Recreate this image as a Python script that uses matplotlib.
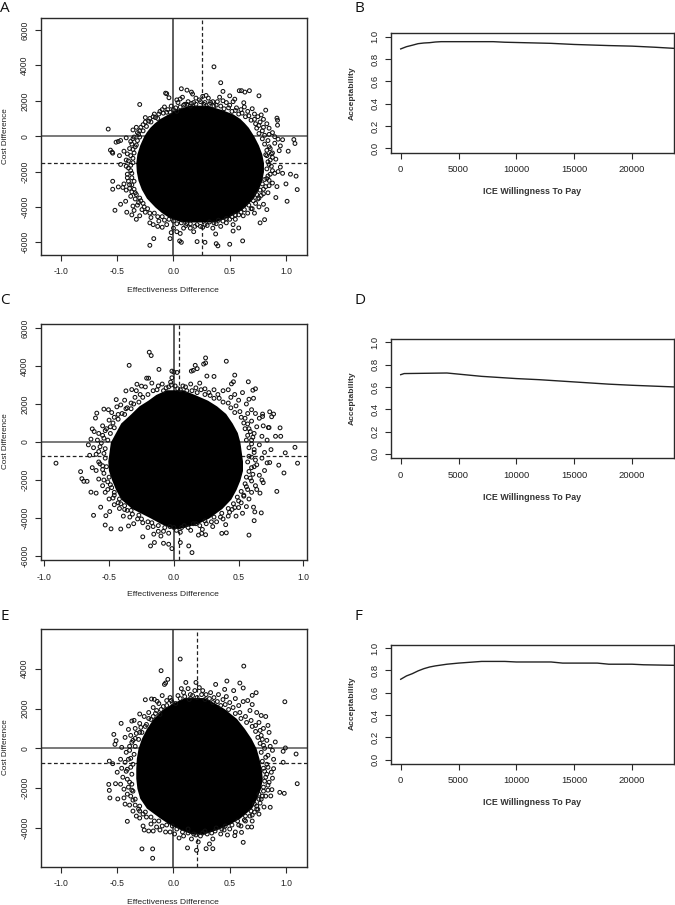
#!/usr/bin/env python3
# -*- coding: utf-8 -*-
"""
Cost effectiveness planes and acceptability curves, three comparisons
"""

import matplotlib
matplotlib.use("Agg")
import matplotlib.pyplot as plt

plt.rcParams['font.family'] = ['Liberation Sans', 'DejaVu Sans']

W, H = 675, 905

# points (effectiveness, cost)
a_points = [(.36,3920),(.42,3020),(.44,2530),(.07,2680),(.12,2600),(.16,2490),(.17,2380),(-.07,2430),(-.06,2400),
    (-.04,2170),(-.30,1790),(-.58,400),(.585,2570),(.605,2570),(.635,2490),(.675,2570),(.76,2280),(.5,2280),
    (.545,2090),(.625,1890),(.82,1470),(.92,1020),(.925,900),(.925,620),(1.07,-190),(1.08,-415),(1.02,-850),
    (1.04,-2150),(1.09,-2260),(1.10,-3020),(1.0,-2700),(1.01,-3680),(.91,-3470),(-.54,-2550),(-.54,-3000),
    (-.49,-2870),(-.52,-4190),(-.415,-4300),(-.47,-3850),(-.425,-3680),(-.51,-340),(-.49,-300),(-.47,-245),
    (-.42,-95),(-.56,-790),(-.545,-905),(-.54,-960),(-.21,-6170),(-.175,-5790),(-.03,-5790),(.055,-5920),
    (.07,-6000),(.21,-5960),(.28,-6000),(.38,-6075),(.395,-6200),(.5,-6110),(.615,-5920),(.375,-5530),
    (.77,-4900),(.81,-4720),(.53,-5360),(.58,-5190),
    (-.08,1650),(-.05,1500),(-.02,1700),(.02,1600),(.04,1900),(.06,2100),(.08,2200),(.03,2050),(.1,1800),
    (.13,1950),(.15,1700),(.18,1900),(.2,2150),(.23,2050),(.26,2250),(.29,2300),(.31,2150),(.27,1800),(.33,1900),
    (.36,1700),(.39,1950),(.41,2200),(.44,2000),(.47,1900),(.5,1750),(.53,1950),(.56,1600),(.6,1500),(.63,1650),
    (.66,1400),(.7,1550),(.72,1250),(.75,1100),(.78,1200),(.8,950),(.77,800),(.83,700),(.85,450),(.8,500),
    (.88,200),(.9,-30),(.85,100),(.93,-170),(.97,-200),(.95,-550),(.9,-400),(.86,-700),(.94,-820),(.88,-950),
    (.83,-1100),(.86,-1350),(.91,-1300),(.85,-1600),(.95,-1750),(.93,-2000),(.9,-2100),(.97,-2100),(.86,-2150),
    (.83,-2400),(.88,-2650),(.92,-2850),(.85,-2800),(.8,-3000),(.84,-3200),(.78,-3350),(.75,-3550),(.8,-3850),
    (.83,-4150),(.76,-4000),(.7,-4100),(.72,-4350),(.66,-4350),(.62,-4500),(.58,-4450),(.55,-4700),(.5,-4700),
    (.53,-5000),(.47,-4900),(.42,-5100),(.38,-4950),(.35,-5200),(.3,-5050),(.26,-5150),(.21,-5000),(.18,-5400),
    (.15,-5200),(.12,-4950),(.09,-5200),(.06,-5500),(.03,-5400),(0,-5200),(-.02,-5450),(-.06,-5000),(-.1,-5150),
    (-.14,-5100),(-.18,-5000),(-.21,-4900),(-.13,-4800),(-.2,-4600),(-.25,-4300),(-.28,-4150),(-.3,-4500),
    (-.33,-4700),(-.37,-4450),(-.35,-4200),(-.32,-3900),(-.36,-3950),(-.29,-3650),(-.38,-3400),(-.34,-3200),
    (-.42,-3050),(-.45,-2900),(-.39,-2750),(-.35,-2550),(-.44,-2700),(-.41,-2350),(-.37,-2100),(-.4,-1800),
    (-.36,-1500),(-.47,-1600),(-.42,-1350),(-.38,-1100),(-.48,-1100),(-.44,-850),(-.36,-750),(-.33,-500),
    (-.38,-300),(-.35,-50),(-.31,100),(-.36,350),(-.33,500),(-.3,300),(-.27,650),(-.25,1050),(-.22,850),
    (-.18,1100),(-.14,1000),(-.12,1400),(-.17,1250)]

a_band = [(-.03,1350),(0,1500),(.03,1400),(.06,1650),(.09,1750),(.12,1800),(.16,1850),(.2,1800),(.24,1950),(.28,1900),
    (.32,1800),(.35,1950),(.38,1750),(.42,1700),(.45,1550),(.49,1600),(.52,1400),(.55,1450),(.58,1250),(.61,1300),
    (.64,1100),(.67,1150),(.69,900),(.72,950),(.73,700),(.76,600),(.74,450),(.79,300),(.76,150),(.81,50),(.79,-150),
    (.84,-250),(.81,-450),(.85,-600),(.83,-800),(.87,-1000),(.82,-1050),(.88,-1200),(.84,-1450),(.87,-1700),(.83,-1850),
    (.88,-1950),(.84,-2250),(.81,-2450),(.85,-2500),(.79,-2700),(.82,-2850),(.77,-3050),(.8,-3250),(.74,-3300),(.76,-3500),
    (.71,-3650),(.73,-3800),(.67,-3900),(.69,-4100),(.63,-4150),(.6,-4300),(.55,-4450),(.52,-4550),(.47,-4650),(.44,-4800),
    (.4,-4750),(.36,-4900),(.32,-4850),(.28,-5000),(.24,-5100),(.19,-5100),(.15,-4950),(.11,-5050),(.07,-4900),(.03,-4950),
    (0,-4800),(-.04,-4700),(-.08,-4750),(-.1,-4550),(-.14,-4550),(-.17,-4350),(-.21,-4350),(-.23,-4100),(-.26,-4000),
    (-.27,-3800),(-.31,-3750),(-.3,-3500),(-.34,-3550),(-.33,-3300),(-.37,-3150),(-.35,-3000),(-.39,-2950),(-.37,-2750),
    (-.4,-2550),(-.37,-2350),(-.41,-2150),(-.38,-1950),(-.42,-1700),(-.38,-1650),(-.4,-1400),(-.36,-1250),(-.41,-1000),
    (-.35,-950),(-.39,-700),(-.34,-600),(-.37,-450),(-.32,-250),(-.36,-150),(-.3,-50),(-.32,200),(-.27,300),(-.29,500),
    (-.24,550),(-.25,800),(-.2,800),(-.21,1000),(-.16,1050),(-.13,1250),(-.09,1300),(-.1,1500),(-.06,1350)]

# points
c_points = [(-.19,4725),(-.175,4550),(-.345,4035),(-.115,3820),(-.015,3730),(0,3680),(.025,3660),(.135,3730),
    (.15,3770),(.165,4035),(.18,3860),(.23,4100),(.245,4160),(.245,4425),(.405,4250),(.47,3520),(.31,3450),
    (.255,3470),(.46,3170),(.445,3060),(.575,3170),(.63,2800),(.61,2725),(-.21,3360),(-.195,3360),(-.015,3380),
    (-.025,3150),(-.285,3040),(-.25,2940),(-.37,2690),(-.325,2760),(-.91,-1115),(-.72,-1560),(-.71,-1930),
    (-.695,-2070),(-.67,-2070),(-.64,-2640),(-.6,-2690),(-.62,-3860),(-.565,-3430),(-.53,-4370),(-.485,-4570),
    (-.525,-3880),(-.495,-3660),(-.41,-4580),(-.35,-4420),(-.24,-4990),(-.18,-5470),(-.15,-5290),(-.155,-4850),
    (-.015,-5610),(.115,-5470),(.14,-5820),(.05,-5290),(-.08,-5330),(-.04,-5380),(.19,-4900),(.215,-4810),
    (.245,-4880),(.37,-4810),(.405,-4780),(.58,-4900),(.62,-4140),(.625,-3680),(.615,-3430),(.675,-3730),
    (.795,-2600),(.69,-2140),(.665,-2690),(.74,-1080),(.85,-1630),(.81,-1220),(.955,-1115),(.86,-570),(.935,-280),
    (.825,300),(.785,300),(.82,745),(.73,760),(.735,760),(.74,1590),(.77,1470),(.755,1330),(.685,1470),(.685,1345),
    (.615,2300),(-.595,1520),(-.605,1260),(-.63,690),(-.615,550),(-.54,1730),(-.505,1700),(-.445,2230),
    (-.22,2900),(-.17,3100),(-.13,2750),(-.09,3050),(-.06,2850),(-.02,3000),(.03,2800),(.07,2950),(.1,2700),
    (.13,3050),(.17,2850),(.2,3100),(.24,2800),(.27,2600),(.31,2750),(.34,2500),(.38,2700),(.42,2750),(.44,2350),
    (.47,2500),(.5,2200),(.53,2600),(.56,2000),(.58,2250),(.6,1700),(.63,1500),(.57,1500),(.66,1250),(.6,1100),
    (.64,800),(.69,850),(.58,700),(.62,450),(.68,300),(.72,100),(.6,100),(.66,-150),(.75,-400),(.7,-550),(.62,-400),
    (.68,-850),(.6,-800),(.72,-1100),(.64,-1200),(.7,-1500),(.6,-1350),(.66,-1750),(.59,-1900),(.68,-2000),
    (.63,-2300),(.56,-2350),(.6,-2650),(.64,-2500),(.54,-2800),(.58,-3000),(.52,-3200),(.56,-3400),(.5,-3450),
    (.53,-3750),(.45,-3550),(.48,-3900),(.42,-3900),(.38,-4050),(.4,-4350),(.33,-4200),(.3,-4450),(.25,-4300),
    (.22,-4600),(.17,-4300),(.13,-4650),(.08,-4400),(.05,-4750),(0,-4500),(-.04,-4800),(-.07,-4500),(-.1,-4950),
    (-.12,-4700),(-.17,-4250),(-.2,-4500),(-.24,-4250),(-.28,-4050),(-.31,-4300),(-.34,-3950),(-.39,-3900),
    (-.36,-3600),(-.42,-3500),(-.46,-3300),(-.41,-3250),(-.5,-3000),(-.46,-2800),(-.53,-2650),(-.48,-2400),
    (-.55,-2300),(-.51,-2100),(-.58,-1950),(-.54,-1650),(-.6,-1500),(-.55,-1250),(-.63,-1350),(-.58,-1050),
    (-.65,-700),(-.6,-650),(-.54,-600),(-.66,-150),(-.62,-300),(-.57,-250),(-.64,150),(-.59,100),(-.54,200),
    (-.58,450),(-.53,600),(-.55,850),(-.49,800),(-.5,1150),(-.46,1300),(-.48,1550),(-.44,1850),(-.4,1500),
    (-.41,1950),(-.36,1800),(-.33,2050),(-.38,2200),(-.3,2350),(-.26,2500),(-.29,2700)]

c_band = [(-.16,2700),(-.12,2950),(-.08,2700),(-.04,2900),(.01,2950),(.05,2750),(.09,2900),(.14,2700),(.18,2600),(.21,2750),
    (.24,2500),(.28,2450),(.31,2300),(.35,2300),(.38,2100),(.42,2050),(.44,1800),(.48,1900),(.47,1550),(.51,1600),(.52,1300),
    (.55,1250),(.54,1000),(.57,950),(.55,700),(.59,550),(.57,350),(.61,250),(.56,100),(.6,-100),(.58,-300),(.62,-550),(.58,-750),
    (.63,-950),(.57,-1050),(.62,-1300),(.58,-1550),(.61,-1700),(.56,-1850),(.6,-2050),(.55,-2200),(.57,-2500),(.52,-2600),
    (.54,-2850),(.49,-2900),(.5,-3100),(.46,-3250),(.47,-3450),(.42,-3500),(.43,-3700),(.37,-3750),(.36,-3950),(.31,-3950),
    (.29,-4200),(.24,-4150),(.2,-4400),(.15,-4300),(.11,-4500),(.06,-4500),(.02,-4650),(-.03,-4450),(-.08,-4700),(-.12,-4400),
    (-.16,-4450),(-.2,-4200),(-.25,-4050),(-.27,-3850),(-.32,-3800),(-.33,-3600),(-.38,-3550),(-.38,-3350),(-.43,-3200),
    (-.42,-3000),(-.47,-2950),(-.46,-2650),(-.51,-2500),(-.49,-2250),(-.54,-2000),(-.5,-1850),(-.55,-1450),(-.52,-1300),
    (-.57,-1150),(-.53,-850),(-.58,-500),(-.53,-350),(-.56,-50),(-.51,100),(-.55,350),(-.49,450),(-.52,700),(-.46,750),
    (-.47,1000),(-.43,1200),(-.43,1450),(-.38,1450),(-.37,1750),(-.33,1750),(-.31,2000),(-.27,2100),(-.24,2350),(-.2,2500)]

# points
e_points = [(.06,4485),(.625,4130),(-.11,3900),(-.05,3465),(-.07,3280),(-.08,3210),(.475,3380),(.59,3280),(.62,3030),
    (.11,3310),(.2,3310),(.375,3210),(.455,2960),(.535,2900),(.735,2795),(.7,2660),(-.25,2440),(-.195,2480),
    (-.17,2460),(-.145,2360),(-.30,1725),(-.465,1255),(-.37,1370),(-.35,1405),(-.53,700),(-.51,385),(-.52,200),
    (.99,2340),(.905,320),(.975,-150),(.995,20),(1.09,-285),(.975,-700),(.89,-1020),(1.10,-1775),(.945,-2210),
    (.985,-2260),(.875,-2075),(.865,-2390),(.86,-2960),(.805,-2945),(.75,-3060),(-.575,-1810),(-.57,-2110),
    (-.565,-2490),(-.515,-1775),(-.495,-2540),(-.44,-2490),(-.41,-3665),(-.28,-5050),(-.185,-5050),(-.185,-5520),
    (.125,-5000),(.205,-5120),(.29,-5040),(.35,-5040),(.62,-4720),(.545,-4385),(.605,-4220),(.695,-3950),
    (-.57,-640),(-.54,-770),
    (-.1,2650),(-.06,2400),(-.03,2550),(-.01,2300),(.04,2650),(.07,3000),(.09,2800),(.13,3000),(.15,2700),(.19,2900),
    (.23,3050),(.26,2900),(.29,2700),(.33,2800),(.36,2550),(.4,2700),(.44,2450),(.47,2600),(.5,2300),(.55,2500),
    (.58,2150),(.62,2350),(.66,2400),(.68,1900),(.7,2200),(.74,1800),(.78,1650),(.82,1600),(.76,1300),(.84,1150),
    (.8,1000),(.85,800),(.78,650),(.83,400),(.86,100),(.8,150),(.88,-100),(.84,-350),(.89,-550),(.83,-800),
    (.87,-1200),(.81,-1150),(.88,-1500),(.85,-1700),(.82,-1450),(.84,-2100),(.8,-1950),(.82,-2400),(.78,-2550),
    (.76,-2300),(.74,-2900),(.72,-3200),(.76,-3300),(.68,-3400),(.7,-3650),(.64,-3650),(.66,-3950),(.6,-3900),
    (.55,-4200),(.5,-4050),(.48,-4350),(.45,-4100),(.42,-4300),(.37,-4150),(.35,-4550),(.32,-4800),(.3,-4300),
    (.26,-4250),(.22,-4700),(.2,-4350),(.16,-4550),(.13,-4250),(.09,-4400),(.05,-4500),(.01,-4300),(-.03,-4200),
    (-.07,-4200),(-.12,-4100),(-.15,-3950),(-.18,-4150),(-.22,-4150),(-.26,-4100),(-.27,-3900),(-.2,-3800),
    (-.3,-3500),(-.33,-3400),(-.27,-3300),(-.36,-3150),(-.31,-3050),(-.39,-2850),(-.43,-2800),(-.36,-2600),
    (-.41,-2300),(-.37,-2100),(-.44,-2050),(-.47,-1800),(-.39,-1700),(-.45,-1450),(-.5,-1200),(-.42,-1150),
    (-.46,-1000),(-.38,-950),(-.43,-700),(-.47,-550),(-.38,-500),(-.42,-200),(-.46,50),(-.39,100),(-.37,300),
    (-.43,550),(-.38,650),(-.34,500),(-.4,950),(-.34,1000),(-.3,800),(-.3,1250),(-.25,1100),(-.26,1600),(-.22,1800),
    (-.2,1450),(-.15,1900),(-.12,1700),(-.09,2100),(-.13,2250),(-.18,2050)]

e_band = [(-.06,2150),(-.02,2400),(.02,2250),(.06,2500),(.1,2600),(.14,2450),(.17,2650),(.21,2550),(.25,2700),(.28,2450),
    (.32,2500),(.35,2300),(.39,2350),(.42,2150),(.46,2200),(.49,1950),(.53,2050),(.55,1750),(.59,1800),(.6,1500),(.64,1600),
    (.65,1300),(.69,1400),(.7,1100),(.73,1150),(.73,850),(.77,900),(.75,550),(.79,450),(.77,250),(.81,0),(.78,-200),(.82,-450),
    (.79,-650),(.84,-950),(.8,-1000),(.83,-1300),(.81,-1650),(.84,-1850),(.8,-2150),(.79,-2400),(.76,-2550),(.77,-2750),(.72,-2800),
    (.74,-3050),(.69,-3150),(.7,-3350),(.64,-3400),(.63,-3600),(.57,-3650),(.58,-3850),(.52,-3850),(.46,-3900),(.43,-4050),(.38,-4000),
    (.34,-4250),(.28,-4150),(.24,-4400),(.18,-4300),(.13,-4050),(.08,-4200),(.03,-4050),(-.01,-3900),(-.06,-3850),(-.1,-3900),
    (-.13,-3650),(-.17,-3650),(-.2,-3450),(-.24,-3450),(-.25,-3200),(-.3,-3150),(-.3,-2900),(-.34,-2850),(-.34,-2550),(-.38,-2400),
    (-.36,-2150),(-.4,-1950),(-.37,-1800),(-.41,-1550),(-.37,-1300),(-.41,-1050),(-.36,-800),(-.4,-550),(-.35,-300),(-.39,-100),
    (-.34,100),(-.36,400),(-.31,450),(-.33,750),(-.28,800),(-.29,1050),(-.24,1200),(-.22,1500),(-.18,1600),(-.16,1750),(-.11,1950)]

# solid black part of each cloud, left and right edge at each cost level
a_cost = [1750, 1500, 1250, 1000, 750, 500, 250, 0, -500, -1000, -1500, -2000, -2500, -3000, -3500, -4000, -4300, -4600, -4850]
a_left = [.14, .02, -.05, -.12, -.17, -.21, -.24, -.265, -.30, -.325, -.335, -.33, -.315, -.285, -.24, -.165, -.11, -.04, .07]
a_right = [.3, .43, .53, .59, .63, .665, .69, .715, .755, .785, .80, .80, .785, .755, .71, .635, .57, .48, .36]

c_cost = [2750, 2500, 2200, 1900, 1500, 1000, 500, 0, -500, -1000, -1500, -2000, -2500, -3000, -3500, -4000, -4300, -4550]
c_left = [-.06, -.14, -.2, -.27, -.33, -.41, -.45, -.49, -.5, -.51, -.505, -.48, -.45, -.41, -.325, -.18, -.1, -.01]
c_right = [.07, .16, .26, .33, .4, .45, .49, .51, .52, .53, .53, .51, .48, .44, .37, .27, .18, .04]

e_cost = [2550, 2300, 2000, 1500, 1000, 500, 0, -500, -1000, -1500, -2000, -2500, -3000, -3500, -3800, -4050, -4300]
e_left = [.1, .0, -.09, -.18, -.24, -.285, -.315, -.33, -.335, -.335, -.325, -.30, -.24, -.12, -.04, .05, .16]
e_right = [.27, .36, .45, .56, .63, .69, .735, .76, .78, .79, .775, .74, .695, .59, .5, .4, .27]

# mean differences, the dashed lines
a_mean = (.25, -1520)
c_mean = (.04, -750)
e_mean = (.21, -750)

# acceptability curves
b_wtp = [0, 500, 1000, 1500, 2000, 2500, 3000, 3500, 5000, 8000, 9000, 11000, 13000, 15000, 18000, 20000, 22000, 23660]
b_acc = [.89, .91, .923, .937, .943, .946, .952, .955, .955, .955, .95, .945, .94, .93, .92, .915, .905, .895]
d_wtp = [0, 300, 4000, 5000, 7000, 10000, 12000, 15000, 18000, 20000, 23660]
d_acc = [.71, .72, .725, .715, .695, .675, .665, .645, .625, .615, .60]
f_wtp = [0, 500, 1000, 1500, 2000, 2500, 3000, 4000, 5000, 7000, 9000, 10000, 13000, 14000, 17000, 18000, 20000, 21000, 23660]
f_acc = [.72, .75, .77, .795, .815, .83, .84, .855, .865, .88, .88, .875, .875, .865, .865, .855, .855, .85, .845]

wtp_ticks = [0, 5000, 10000, 15000, 20000]
acc_ticks = [0.0, 0.2, 0.4, 0.6, 0.8, 1.0]
DARK = '#2a2a2a'

fig = plt.figure(figsize=(W / 100, H / 100), dpi=100)


def axes_px(left, top, right, bottom):
    ax = fig.add_axes([left / W, 1 - bottom / H, (right - left) / W, (bottom - top) / H])
    for s in ax.spines.values():
        s.set_color(DARK)
        s.set_linewidth(1.0)
    return ax


def finish(ax, xticks, xlabels, yticks, ylabels, size):
    ax.set_xticks(xticks, xlabels)
    ax.set_yticks(yticks, ylabels)
    ax.tick_params(axis='x', length=4.3, width=0.8, pad=4.5, labelsize=size, color=DARK, labelcolor='#222222')
    ax.tick_params(axis='y', length=4.3, width=0.8, pad=4, labelsize=size, color=DARK, labelcolor='#222222')
    for t in ax.get_yticklabels():
        t.set_rotation(90)
        t.set_va('center')


def px_text(x, y, s, **kw):
    fig.text(x / W, 1 - y / H, s, ha='center', va='center', **kw)


def plane(box, xlim, ylim, xticks, yticks, points, cost, left, right, mean, letter, letter_y, label_y, ylab_y):
    ax = axes_px(*box)
    ax.axhline(0, color='#555555', lw=1.1, zorder=1)
    ax.axvline(0, color='#333333', lw=1.1, zorder=1)
    ax.axhline(mean[1], color='#222222', lw=0.9, dashes=(3, 2), zorder=1)
    ax.axvline(mean[0], color='#222222', lw=0.9, dashes=(3, 2), zorder=1)
    ax.fill_betweenx(cost, left, right, color='black', lw=0, zorder=2)
    xs = [p[0] for p in points]
    ys = [p[1] for p in points]
    ax.scatter(xs, ys, s=7.5, facecolors='none', edgecolors='#111111', linewidths=0.75, zorder=3)
    ax.set_xlim(*xlim)
    ax.set_ylim(*ylim)
    finish(ax, xticks, ['%.1f' % v for v in xticks], yticks, [str(v) for v in yticks], 6.2)
    px_text(173, label_y, 'Effectiveness Difference', fontsize=6.1, color='#222222')
    px_text(6, ylab_y, 'Cost Difference', fontsize=5.9, rotation=90, color='#222222')
    fig.text(0 / W, 1 - letter_y / H, letter, fontsize=11, family='Open Sans', va='center', ha='left', color='#111111')


def curve(box, wtp, acc, letter, letter_y, label_y, ylab_y):
    ax = axes_px(*box)
    ax.plot(wtp, acc, color='#222222', lw=1.0)
    ax.set_xlim(-865, 23660)
    ax.set_ylim(-0.04, 1.03)
    finish(ax, wtp_ticks, [str(v) for v in wtp_ticks], acc_ticks, ['%.1f' % v for v in acc_ticks], 6.8)
    px_text(532, label_y, 'ICE Willingness To Pay', fontsize=6.4, fontweight='bold', color='#333333')
    px_text(352.5, ylab_y, 'Acceptability', fontsize=6.1, fontweight='bold', rotation=90, color='#333333')
    fig.text(355 / W, 1 - letter_y / H, letter, fontsize=11, family='Open Sans', va='center', ha='left', color='#111111')


plane((40.7, 17.7, 307, 254.7), (-1.18, 1.187), (-6700, 6695), [-1.0, -0.5, 0.0, 0.5, 1.0],
      [-6000, -4000, -2000, 0, 2000, 4000, 6000], a_points + a_band, a_cost, a_left, a_right, a_mean, 'A', 8, 290, 136)
plane((40.7, 323.7, 307, 560.3), (-1.028, 1.028), (-6226, 6226), [-1.0, -0.5, 0.0, 0.5, 1.0],
      [-6000, -4000, -2000, 0, 2000, 4000, 6000], c_points + c_band, c_cost, c_left, c_right, c_mean, 'C', 300, 595, 441)
plane((40.7, 629.3, 307, 866.7), (-1.18, 1.187), (-5943, 5978), [-1.0, -0.5, 0.0, 0.5, 1.0],
      [-4000, -2000, 0, 2000, 4000], e_points + e_band, e_cost, e_left, e_right, e_mean, 'E', 616, 902, 747)

curve((390.7, 33.3, 674.3, 152.7), b_wtp, b_acc, 'B', 8, 191.5, 93)
curve((390.7, 339, 674.3, 458.3), d_wtp, d_acc, 'D', 300, 497, 398)
curve((390.7, 644.7, 674.3, 764), f_wtp, f_acc, 'F', 616, 802.5, 703)

fig.savefig('out.png', dpi=100)
